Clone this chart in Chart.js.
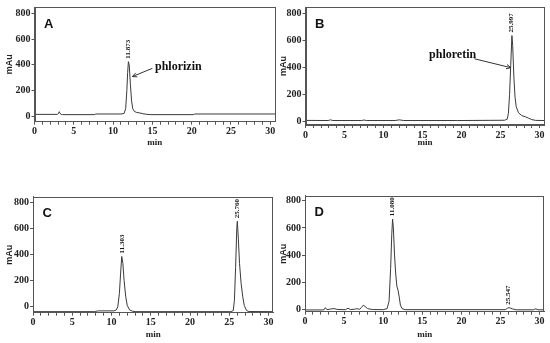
<!DOCTYPE html>
<html>
<head>
<meta charset="utf-8">
<script src="https://cdn.jsdelivr.net/npm/chart.js@4"></script>
<style>
html, body { margin: 0; padding: 0; background: #fff; }
#wrap { position: relative; width: 550px; height: 343px; }
canvas { position: absolute; left: 0; top: 0; }
</style>
</head>
<body>
<div id="wrap">
  <canvas id="pA" width="550" height="343"></canvas>
  <canvas id="pB" width="550" height="343"></canvas>
  <canvas id="pC" width="550" height="343"></canvas>
  <canvas id="pD" width="550" height="343"></canvas>
</div>
<script>
// retention time (min) and absorbance (mAu)
let timeA = [0, 2.9, 3.05, 3.15, 3.25, 3.4, 3.6, 7.6, 7.8, 11.0, 11.4, 11.6, 11.75, 11.85, 11.95, 12.05, 12.2, 12.35, 12.5, 12.7, 13.0, 13.4, 13.8, 14.3, 14.8, 20.2, 20.4, 30.6];
let mAuA = [15, 15, 22, 36, 22, 15, 13, 13, 18, 18, 22, 60, 200, 340, 425, 400, 250, 120, 60, 38, 30, 26, 20, 15, 13, 13, 18, 18];

let timeB = [0, 2.9, 3.2, 3.5, 7.2, 7.5, 7.8, 11.5, 12.0, 12.6, 19.5, 25.5, 25.85, 26.0, 26.15, 26.3, 26.45, 26.55, 26.7, 26.85, 27.0, 27.3, 27.7, 28.2, 28.6, 29.0, 29.5, 30.6];
let mAuB = [9, 8, 13, 8, 8, 12, 8, 8, 13, 8, 8, 10, 18, 60, 200, 420, 635, 560, 330, 180, 110, 65, 45, 35, 25, 15, 9, 8];

let timeC = [0, 7.8, 8.3, 10.3, 10.6, 10.8, 11.0, 11.15, 11.3, 11.45, 11.6, 11.8, 12.0, 12.3, 12.7, 13.0, 25.2, 25.5, 25.65, 25.8, 25.95, 26.02, 26.15, 26.3, 26.5, 26.7, 26.9, 27.2, 27.5, 30.6];
let mAuC = [-38, -38, -32, -32, -25, 0, 100, 250, 385, 330, 200, 80, 10, -25, -35, -38, -38, -30, 50, 300, 600, 655, 520, 330, 180, 80, 10, -30, -37, -38];

let timeD = [0, 2.4, 2.6, 2.8, 3.3, 3.7, 4.2, 5.2, 5.5, 5.8, 6.3, 6.6, 7.0, 7.2, 7.45, 7.7, 8.0, 8.6, 10.0, 10.5, 10.75, 10.95, 11.1, 11.2, 11.3, 11.45, 11.6, 11.75, 11.9, 12.05, 12.2, 12.4, 12.8, 25.6, 25.9, 26.1, 26.5, 27.0, 29.2, 29.5, 29.8, 30.6];
let mAuD = [-5, -5, 12, -3, 2, 5, -2, -3, 8, -2, 0, 4, 0, 12, 30, 20, 5, -2, -3, 5, 60, 300, 560, 665, 600, 400, 260, 170, 140, 90, 30, 5, -3, -3, 8, 12, 3, -4, -4, 3, -4, -4];

// peak labels: [time, height, text]
let peaksA = [[11.95, 425, '11.873']];
let peaksB = [[26.42, 635, '25.997']];
let peaksC = [[11.3, 385, '11.303'], [26.02, 655, '25.760']];
let peaksD = [[11.2, 665, '11.080'], [25.95, 12, '25.547']];

let xTicks = [0, 5, 10, 15, 20, 25, 30];
let yTicks = [0, 200, 400, 600, 800];

// one minor tick per minute on the time axis
let xMinor = [];
for (let m = 0; m <= 30; m++) xMinor.push(m);

function panel(id, p) {
    let padL = p.titleX - 5.4;
    let decor = {
        id: 'decor' + id,
        afterDraw(chart) {
            let ctx = chart.ctx, a = chart.chartArea;
            let xs = chart.scales.x, ys = chart.scales.y;
            ctx.save();
            ctx.strokeStyle = '#555';
            ctx.lineWidth = 1;
            ctx.strokeRect(Math.round(a.left) + 0.5, Math.round(a.top) + 0.5,
                Math.round(a.right - a.left) - 1, Math.round(a.bottom - a.top) - 1);

            ctx.fillStyle = '#111';
            ctx.font = 'bold 13px "Liberation Sans"';
            ctx.textAlign = 'left';
            ctx.textBaseline = 'alphabetic';
            ctx.fillText(p.letter, a.left + 9.5, a.top + 20.5);

            ctx.font = 'bold 7px "Liberation Serif"';
            ctx.textBaseline = 'middle';
            p.peaks.forEach(pk => {
                ctx.save();
                ctx.translate(xs.getPixelForValue(pk[0]), ys.getPixelForValue(pk[1]) - 3);
                ctx.rotate(-Math.PI / 2);
                ctx.fillText(pk[2], 0, 0);
                ctx.restore();
            });

            if (p.note) {
                let n = p.note;
                ctx.font = 'bold 12px "Liberation Serif"';
                ctx.fillText(n.text, xs.getPixelForValue(n.at[0]), ys.getPixelForValue(n.at[1]));
                let x0 = xs.getPixelForValue(n.from[0]), y0 = ys.getPixelForValue(n.from[1]);
                let x1 = xs.getPixelForValue(n.to[0]), y1 = ys.getPixelForValue(n.to[1]);
                let ang = Math.atan2(y1 - y0, x1 - x0);
                ctx.strokeStyle = '#333';
                ctx.beginPath();
                ctx.moveTo(x0, y0);
                ctx.lineTo(x1, y1);
                ctx.moveTo(x1 - 5 * Math.cos(ang - 0.45), y1 - 5 * Math.sin(ang - 0.45));
                ctx.lineTo(x1, y1);
                ctx.lineTo(x1 - 5 * Math.cos(ang + 0.45), y1 - 5 * Math.sin(ang + 0.45));
                ctx.stroke();
            }
            ctx.restore();
        }
    };

    return new Chart(document.getElementById(id), {
        type: 'line',
        data: {
            datasets: [{
                data: p.time.map((t, i) => ({ x: t, y: p.val[i] })),
                borderColor: '#3a3a3a',
                borderWidth: 1,
                pointRadius: 0,
                tension: 0,
                fill: false
            }]
        },
        options: {
            responsive: false,
            animation: false,
            events: [],
            layout: {
                padding: { left: padL, top: p.box[1], right: 550 - p.box[2], bottom: 343 - p.box[3] - p.xh }
            },
            plugins: { legend: { display: false }, tooltip: { enabled: false } },
            scales: {
                x: {
                    type: 'linear',
                    min: 0,
                    max: 30.6,
                    afterFit: s => { s.height = p.xh; },
                    afterBuildTicks: s => { s.ticks = xMinor.map(v => ({ value: v })); },
                    border: { color: '#555' },
                    grid: { drawOnChartArea: false, tickLength: 3, color: '#555' },
                    ticks: {
                        autoSkip: false,
                        maxRotation: 0,
                        padding: 1,
                        color: '#222',
                        font: { family: 'Liberation Serif', weight: 'bold', size: 10 },
                        callback: v => xTicks.includes(v) ? v : ''
                    },
                    title: {
                        display: true,
                        text: 'min',
                        color: '#222',
                        padding: 0,
                        font: { family: 'Liberation Serif', weight: 'bold', size: 9 }
                    }
                },
                y: {
                    min: p.ymin,
                    max: p.ymax,
                    afterFit: s => { s.width = p.box[0] - padL; },
                    afterBuildTicks: s => { s.ticks = yTicks.map(v => ({ value: v })); },
                    border: { color: '#555' },
                    grid: { drawOnChartArea: false, tickLength: 3, color: '#555' },
                    ticks: {
                        autoSkip: false,
                        padding: 1,
                        color: '#222',
                        font: { family: 'Liberation Serif', weight: 'bold', size: 10 }
                    },
                    title: {
                        display: true,
                        text: 'mAu',
                        color: '#222',
                        padding: 0,
                        font: { family: 'Liberation Sans', weight: 'bold', size: 9 }
                    }
                }
            }
        },
        plugins: [decor]
    });
}

panel('pA', {
    time: timeA, val: mAuA, peaks: peaksA, letter: 'A',
    box: [34.5, 5.7, 275, 121.7], xh: 26.6, titleX: 9.5, ymin: -42, ymax: 850,
    note: { text: 'phlorizin', at: [15.33, 386], from: [15.0, 373], to: [12.45, 309] }
});
panel('pB', {
    time: timeB, val: mAuB, peaks: peaksB, letter: 'B',
    box: [305.5, 7, 544.3, 125], xh: 22.7, titleX: 283.3, ymin: -25, ymax: 846,
    note: { text: 'phloretin', at: [15.83, 491], from: [21.64, 464], to: [26.31, 398] }
});
panel('pC', {
    time: timeC, val: mAuC, peaks: peaksC, letter: 'C',
    box: [33, 196.7, 273.3, 312.7], xh: 27.3, titleX: 9.3, ymin: -46, ymax: 843
});
panel('pD', {
    time: timeD, val: mAuD, peaks: peaksD, letter: 'D',
    box: [305, 195.7, 544.3, 311.7], xh: 28.3, titleX: 283.3, ymin: -18, ymax: 838
});
</script>
</body>
</html>
